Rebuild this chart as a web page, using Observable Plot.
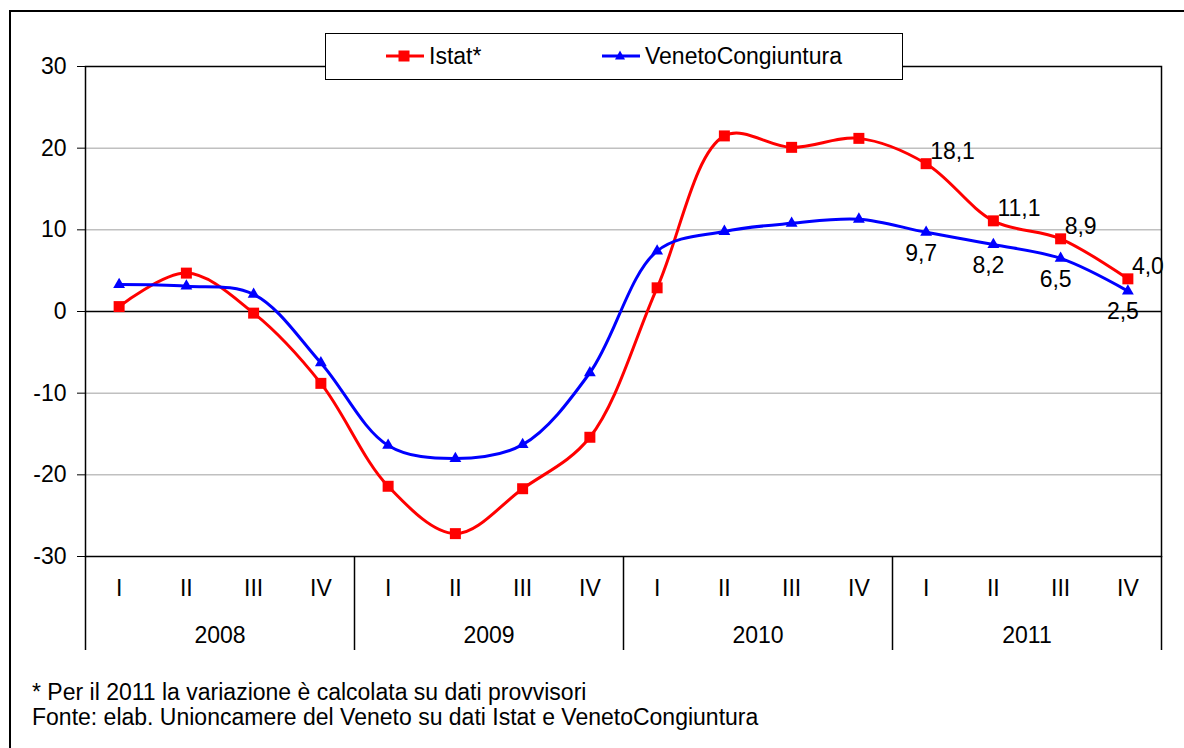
<!DOCTYPE html>
<html>
<head>
<meta charset="utf-8">
<script src="https://cdn.jsdelivr.net/npm/d3@7"></script>
<script src="https://cdn.jsdelivr.net/npm/@observablehq/plot@0.6"></script>
<style>
  html, body { margin: 0; padding: 0; background: #fff; overflow: hidden; }
  body { width: 1184px; height: 748px; position: relative; font-family: "Liberation Sans", Arial, sans-serif; }
  #frame { position: absolute; left: 9px; top: 10px; width: 1300px; height: 900px; border: 2px solid #000; box-sizing: border-box; }
  #chart { position: absolute; left: 0; top: 0; }
  #legend { position: absolute; left: 325px; top: 33px; width: 578px; height: 47px; box-sizing: border-box; border: 1.5px solid #000; background: #fff; font-size: 23px; color: #000; }
  .item { position: absolute; top: 0; height: 44px; display: flex; align-items: center; }
  .item svg { margin-right: 5px; }
  #notes { position: absolute; left: 32px; top: 680px; font-size: 23px; line-height: 25px; color: #000; }
</style>
</head>
<body>
<div id="frame"></div>
<div id="chart"></div>
<div id="legend"></div>
<div id="notes"></div>
<script>
// ---- data ----
const years = ["2008", "2009", "2010", "2011"];
const quarters = ["I", "II", "III", "IV"];
const istat = [0.6, 4.7, -0.2, -8.8, -21.4, -27.2, -21.7, -15.4, 2.9, 21.5, 20.1, 21.2, 18.1, 11.1, 8.9, 4.0];
const veneto = [3.3, 3.1, 2.1, -6.3, -16.4, -18.0, -16.3, -7.5, 7.4, 9.8, 10.8, 11.3, 9.7, 8.2, 6.5, 2.5];
const labelledFrom = 12; // 2011 points carry value labels
const yTicks = [-30, -20, -10, 0, 10, 20, 30];
const seriesNames = ["Istat*", "VenetoCongiuntura"];
const notes = [
  "* Per il 2011 la variazione è calcolata su dati provvisori",
  "Fonte: elab. Unioncamere del Veneto su dati Istat e VenetoCongiuntura"
];

// ---- derived tables ----
const rows = istat.map((v, i) => ({
  i, q: quarters[i % 4], year: years[Math.floor(i / 4)], istat: v, veneto: veneto[i]
}));
const yearRows = years.map((y, k) => ({ year: y, mid: k * 4 + 1.5 }));
const bounds = d3.range(0, years.length + 1).map(k => k * 4 - 0.5);
const labelled = rows.filter(d => d.i >= labelledFrom);
const fmt = v => d3.format(".1f")(v).replace(".", ",");

const RED = "#ff0000", BLUE = "#0000ff";
const FONT = "Liberation Sans, Arial, sans-serif";

const chart = Plot.plot({
  width: 1184,
  height: 670,
  marginLeft: 85,
  marginRight: 23,
  marginTop: 66,
  marginBottom: 114,
  style: { fontFamily: FONT, fontSize: "23px", color: "#000", background: "transparent" },
  x: { domain: [-0.5, 15.5], axis: null },
  y: { domain: [-30, 30], ticks: yTicks, tickSize: 8, tickPadding: 11, tickFormat: d => `${d}`, label: null },
  marks: [
    Plot.ruleY(yTicks.filter(t => t !== 0 && Math.abs(t) !== 30), { stroke: "#c0c0c0", strokeWidth: 1.5 }),
    Plot.ruleY([0], { stroke: "#000", strokeWidth: 1.5 }),
    Plot.frame({ stroke: "#000", strokeWidth: 1.5 }),
    Plot.ruleX(bounds, { x: d => d, y1: -30, y2: -30, insetBottom: -94, stroke: "#000", strokeWidth: 1.5 }),
    Plot.text(rows, { x: "i", text: "q", frameAnchor: "bottom", dy: 39, fontSize: 23, fill: "#000" }),
    Plot.text(yearRows, { x: "mid", text: "year", frameAnchor: "bottom", dy: 86, fontSize: 23, fill: "#000" }),
    Plot.line(rows, { x: "i", y: "istat", curve: "catmull-rom", stroke: RED, strokeWidth: 3 }),
    Plot.line(rows, { x: "i", y: "veneto", curve: "catmull-rom", stroke: BLUE, strokeWidth: 3 }),
    Plot.dot(rows, { x: "i", y: "istat", symbol: "square", r: 6.2, fill: RED, stroke: "none" }),
    Plot.dot(rows, { x: "i", y: "veneto", symbol: "triangle", r: 4.4, fill: BLUE, stroke: "none" }),
    Plot.text(labelled, { x: "i", y: "istat", text: d => fmt(d.istat), textAnchor: "start", lineAnchor: "bottom", dx: 4, dy: -5, fontSize: 23, fill: "#000" }),
    Plot.text(labelled, { x: "i", y: "veneto", text: d => fmt(d.veneto), textAnchor: "middle", lineAnchor: "top", dx: -5, dy: 12, fontSize: 23, fill: "#000" })
  ]
});
document.getElementById("chart").appendChild(chart);

// ---- legend ----
const legend = document.getElementById("legend");
const swatch = (color, sym) => {
  const shape = sym === "square"
    ? `<rect x="12.5" y="5.5" width="11" height="11" fill="${color}"/>`
    : `<path d="M18,5.5 L23,14.5 L13,14.5 Z" fill="${color}"/>`;
  return `<svg width="38" height="22"><line x1="0" y1="11" x2="38" y2="11" stroke="${color}" stroke-width="3"/>${shape}</svg>`;
};
[[seriesNames[0], RED, "square", 60], [seriesNames[1], BLUE, "triangle", 276]].forEach(([name, c, s, left]) => {
  const el = document.createElement("div");
  el.className = "item";
  el.style.left = left + "px";
  el.innerHTML = swatch(c, s) + `<span>${name}</span>`;
  legend.appendChild(el);
});

// ---- notes ----
document.getElementById("notes").innerHTML = notes.map(n => `<div>${n}</div>`).join("");
</script>
</body>
</html>
